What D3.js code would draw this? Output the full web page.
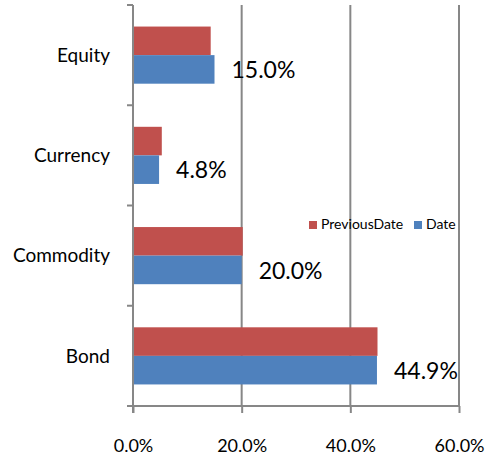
<!DOCTYPE html>
<html>
<head>
<meta charset="utf-8">
<script src="https://cdn.jsdelivr.net/npm/d3@7"></script>
<style>
  body { margin: 0; background: #fff; }
  text { font-family: Lato, "Open Sans", sans-serif; fill: #000; }
</style>
</head>
<body>
<svg width="487" height="457"></svg>
<script>
// data, top to bottom as drawn
var categories = ['Equity', 'Currency', 'Commodity', 'Bond'];
var seriesNames = ['PreviousDate', 'Date'];
var previousDate = [14.3, 5.3, 20.2, 45.0];
var date = [15.0, 4.8, 20.0, 44.9];
var xTicks = [0, 20, 40, 60];

var colors = { PreviousDate: '#C0504D', Date: '#4F81BD' };
var gridColor = '#878787';

var svg = d3.select('svg');
var plotLeft = 133, plotRight = 459, plotTop = 5, plotBottom = 406;

var x = d3.scaleLinear().domain([0, 60]).range([plotLeft, plotRight]);
var y = d3.scaleBand().domain(categories).range([plotTop, plotBottom]).paddingInner(0.43).paddingOuter(0.215);
var ySeries = d3.scaleBand().domain(seriesNames).range([0, y.bandwidth()]);

// gridlines
svg.append('g')
  .selectAll('line')
  .data(xTicks.slice(1))
  .enter()
  .append('line')
  .attr('x1', function(d) { return x(d); })
  .attr('x2', function(d) { return x(d); })
  .attr('y1', plotTop)
  .attr('y2', plotBottom)
  .attr('stroke', gridColor)
  .attr('stroke-width', 2);

// bars
var rows = categories.map(function(c, i) {
  return { cat: c, values: [
    { name: 'PreviousDate', v: previousDate[i] },
    { name: 'Date', v: date[i] }
  ] };
});

var groups = svg.append('g')
  .selectAll('g')
  .data(rows)
  .enter()
  .append('g')
  .attr('transform', function(d) { return 'translate(0,' + y(d.cat) + ')'; });

groups.selectAll('rect')
  .data(function(d) { return d.values; })
  .enter()
  .append('rect')
  .attr('x', x(0))
  .attr('y', function(d) { return ySeries(d.name); })
  .attr('width', function(d) { return x(d.v) - x(0); })
  .attr('height', ySeries.bandwidth())
  .attr('fill', function(d) { return colors[d.name]; });

// data labels for Date series
groups.append('text')
  .attr('x', function(d) { return x(d.values[1].v) + 17; })
  .attr('y', function(d) { return ySeries('Date') + ySeries.bandwidth() / 2 + 3; })
  .attr('dominant-baseline', 'middle')
  .style('font-size', '23px')
  .text(function(d) { return d.values[1].v.toFixed(1) + '%'; });

// x axis
var xAxis = svg.append('g')
  .attr('transform', 'translate(0,' + plotBottom + ')')
  .call(d3.axisBottom(x).tickValues(xTicks).tickSize(7).tickSizeOuter(0)
    .tickFormat(function(d) { return d.toFixed(1) + '%'; }));
xAxis.select('.domain').remove();
xAxis.append('line')
  .attr('x1', plotLeft - 6).attr('x2', plotRight)
  .attr('stroke', gridColor).attr('stroke-width', 2);
xAxis.selectAll('.tick line').attr('stroke', gridColor).attr('stroke-width', 2);
xAxis.selectAll('.tick text')
  .attr('y', 33)
  .style('font-size', '18px')
  .style('font-family', 'Lato, sans-serif')
  .attr('fill', '#000');

// y axis
var boundaries = d3.range(categories.length).map(function(i) {
  return plotTop + i * (plotBottom - plotTop) / categories.length;
});
var yAxis = svg.append('g');
yAxis.append('line')
  .attr('x1', plotLeft).attr('x2', plotLeft)
  .attr('y1', plotTop).attr('y2', plotBottom + 7)
  .attr('stroke', gridColor).attr('stroke-width', 2);
yAxis.selectAll('.bnd')
  .data(boundaries)
  .enter()
  .append('line')
  .attr('x1', plotLeft - 6).attr('x2', plotLeft)
  .attr('y1', function(d) { return d; })
  .attr('y2', function(d) { return d; })
  .attr('stroke', gridColor).attr('stroke-width', 2);
yAxis.selectAll('text')
  .data(categories)
  .enter()
  .append('text')
  .attr('x', 110)
  .attr('y', function(d) { return y(d) + y.bandwidth() / 2 + 2; })
  .attr('text-anchor', 'end')
  .attr('dominant-baseline', 'middle')
  .style('font-size', '19px')
  .text(function(d) { return d; });

// legend
var legend = svg.append('g').attr('transform', 'translate(309,225)');
var legendX = [0, 105];
seriesNames.forEach(function(name, i) {
  legend.append('rect')
    .attr('x', legendX[i]).attr('y', -4)
    .attr('width', 8).attr('height', 8)
    .attr('fill', colors[name]);
  legend.append('text')
    .attr('x', legendX[i] + 12).attr('y', 0)
    .attr('dominant-baseline', 'middle')
    .style('font-size', '14px')
    .text(name);
});
</script>
</body>
</html>
